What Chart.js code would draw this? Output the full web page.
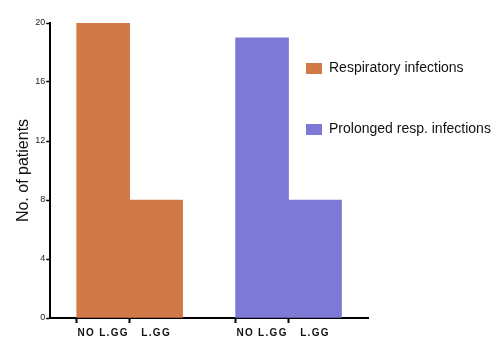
<!DOCTYPE html>
<html>
<head>
<meta charset="utf-8">
<script src="https://cdn.jsdelivr.net/npm/chart.js@4/dist/chart.umd.min.js"></script>
<style>
  html, body { margin: 0; padding: 0; background: #fff; }
  #wrap { width: 500px; height: 349px; }
</style>
</head>
<body>
<div id="wrap"><canvas id="chart" width="500" height="349"></canvas></div>
<script>
    // values
    var groupLabels = ['NO L.GG', 'L.GG'];
    var respiratory = [20, 8];
    var prolonged = [19, 8];
    var seriesNames = ['Respiratory infections', 'Prolonged resp. infections'];
    var seriesColors = ['#D17A47', '#7E78D6'];
    var yTicks = [0, 4, 8, 12, 16, 20];

    // category slots: blank, group 1, blank, group 2, blank
    var xLabels = [''].concat(groupLabels, [''], groupLabels, ['']);
    var orangeData = [null].concat(respiratory, [null, null, null, null]);
    var purpleData = [null, null, null, null].concat(prolonged, [null]);

    var fontFamily = '"Liberation Sans", Arial, Helvetica, sans-serif';

    var sideLegend = {
        id: 'sideLegend',
        afterDatasetsDraw: function (chart) {
            // wide tracking for the x labels, drawn after the bars
            chart.ctx.letterSpacing = '1.3px';
        },
        afterDraw: function (chart) {
            var ctx = chart.ctx;
            var area = chart.chartArea;
            ctx.save();
            ctx.letterSpacing = '0px';
            ctx.font = '14px ' + fontFamily;
            ctx.textBaseline = 'middle';
            ctx.textAlign = 'left';
            chart.data.datasets.forEach(function (ds, i) {
                var y = area.top + 45 + i * 61;
                ctx.fillStyle = ds.backgroundColor;
                ctx.fillRect(area.right - 62, y - 5, 16, 11);
                ctx.fillStyle = '#111';
                ctx.fillText(ds.label, area.right - 39, y);
            });
            ctx.restore();
        }
    };

    var config = {
        type: 'bar',
        data: {
            labels: xLabels,
            datasets: [{
                label: seriesNames[0],
                data: orangeData,
                backgroundColor: seriesColors[0],
                grouped: false,
                barPercentage: 1,
                categoryPercentage: 1
            }, {
                label: seriesNames[1],
                data: purpleData,
                backgroundColor: seriesColors[1],
                grouped: false,
                barPercentage: 1,
                categoryPercentage: 1
            }]
        },
        options: {
            responsive: false,
            animation: false,
            layout: {
                padding: { left: 14, right: 132, top: 23, bottom: 6 }
            },
            plugins: {
                legend: { display: false },
                tooltip: { enabled: false }
            },
            scales: {
                x: {
                    offset: false,
                    grid: {
                        drawOnChartArea: false,
                        tickLength: 5,
                        tickWidth: 2,
                        tickColor: function (c) {
                            return xLabels[c.index] ? '#000' : 'rgba(0,0,0,0)';
                        }
                    },
                    border: { color: '#000', width: 2 },
                    ticks: {
                        z: 1,
                        autoSkip: false,
                        maxRotation: 0,
                        padding: 4,
                        color: '#111',
                        font: { family: fontFamily, size: 10, weight: 'bold' }
                    }
                },
                y: {
                    min: 0,
                    max: 20,
                    afterBuildTicks: function (scale) {
                        scale.ticks = yTicks.map(function (v) { return { value: v }; });
                    },
                    grid: {
                        drawOnChartArea: false,
                        tickLength: 4,
                        tickWidth: 1.5,
                        tickColor: '#000'
                    },
                    border: { color: '#000', width: 2 },
                    ticks: {
                        padding: 1,
                        color: '#222',
                        font: { family: fontFamily, size: 9 }
                    },
                    title: {
                        display: true,
                        text: 'No. of patients',
                        color: '#111',
                        padding: { top: 0, bottom: 1 },
                        font: { family: fontFamily, size: 16 }
                    }
                }
            }
        },
        plugins: [sideLegend]
    };

    var ctx = document.getElementById('chart').getContext('2d');
    var myChart = new Chart(ctx, config);
</script>
</body>
</html>
